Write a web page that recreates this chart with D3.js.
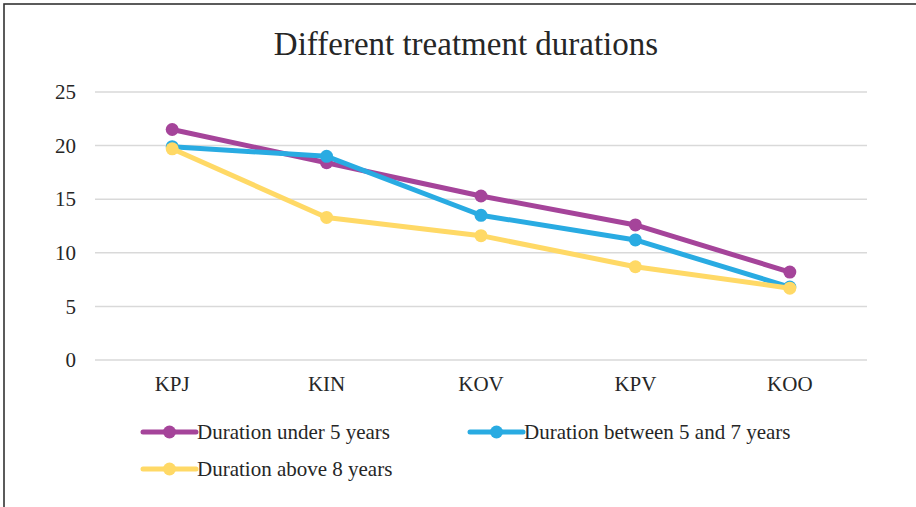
<!DOCTYPE html>
<html>
<head>
<meta charset="utf-8">
<script src="https://cdn.jsdelivr.net/npm/d3@7"></script>
<style>
	body { margin: 0; background: #fff; }
	svg { display: block; }
	svg text { font-family: "Liberation Serif", "Times New Roman", serif; fill: #262626; }
</style>
</head>
<body>
<div id="chart"></div>
<script>
// --------- Data --------- //
var categories = ["KPJ", "KIN", "KOV", "KPV", "KOO"];
var under5 = [21.5, 18.4, 15.3, 12.6, 8.2];
var between5and7 = [19.9, 19.0, 13.5, 11.2, 6.8];
var above8 = [19.7, 13.3, 11.6, 8.7, 6.7];
var yTicks = [0, 5, 10, 15, 20, 25];

var series = [
	{name: "Duration under 5 years", values: under5, color: "#A5449A"},
	{name: "Duration between 5 and 7 years", values: between5and7, color: "#29ABE2"},
	{name: "Duration above 8 years", values: above8, color: "#FFD966"}
];
// --------- /Data --------- //

var width = 916, height = 507;
var margin = {left: 95, right: 49, top: 92, bottom: 147};

var svg = d3.select("#chart").append("svg")
	.attr("width", width)
	.attr("height", height);

// frame (only top & left edges show in the crop)
svg.append("rect")
	.attr("x", 4).attr("y", 4)
	.attr("width", width + 20).attr("height", height + 20)
	.attr("fill", "none")
	.attr("stroke", "#333")
	.attr("stroke-width", 1.6);

svg.append("text")
	.attr("x", 466).attr("y", 55)
	.attr("text-anchor", "middle")
	.style("font-size", "33px")
	.text("Different treatment durations");

var x = d3.scaleBand()
	.domain(categories)
	.range([margin.left, width - margin.right]);

var y = d3.scaleLinear()
	.domain([0, 25])
	.range([height - margin.bottom, margin.top]);

// gridlines
svg.append("g")
	.selectAll("line")
	.data(yTicks)
	.join("line")
	.attr("x1", margin.left).attr("x2", width - margin.right)
	.attr("y1", function(d){ return y(d); })
	.attr("y2", function(d){ return y(d); })
	.attr("stroke", "#d9d9d9")
	.attr("stroke-width", 1.5);

// y axis
var yAxis = svg.append("g")
	.attr("transform", "translate(" + margin.left + ",0)")
	.call(d3.axisLeft(y).tickValues(yTicks).tickSize(0).tickPadding(19));
yAxis.select(".domain").remove();
yAxis.selectAll("text").style("font-size", "21px");

// x axis
var xAxis = svg.append("g")
	.attr("transform", "translate(0," + (height - margin.bottom) + ")")
	.call(d3.axisBottom(x).tickSize(0).tickPadding(16));
xAxis.select(".domain").remove();
xAxis.selectAll("text").style("font-size", "21px");

var line = d3.line()
	.x(function(d, i){ return x(categories[i]) + x.bandwidth() / 2; })
	.y(function(d){ return y(d); });

series.forEach(function(s){
	var g = svg.append("g");
	g.append("path")
		.attr("d", line(s.values))
		.attr("fill", "none")
		.attr("stroke", s.color)
		.attr("stroke-width", 5)
		.attr("stroke-linejoin", "round")
		.attr("stroke-linecap", "round");
	g.selectAll("circle")
		.data(s.values)
		.join("circle")
		.attr("cx", function(d, i){ return x(categories[i]) + x.bandwidth() / 2; })
		.attr("cy", function(d){ return y(d); })
		.attr("r", 6.5)
		.attr("fill", s.color);
});

// legend
var legendPos = [[143, 432], [470, 432], [143, 469]];
series.forEach(function(s, i){
	var p = legendPos[i];
	var g = svg.append("g").attr("transform", "translate(" + p[0] + "," + p[1] + ")");
	g.append("line")
		.attr("x1", 0).attr("x2", 53)
		.attr("stroke", s.color)
		.attr("stroke-width", 5)
		.attr("stroke-linecap", "round");
	g.append("circle")
		.attr("cx", 26.5).attr("r", 6.5)
		.attr("fill", s.color);
	g.append("text")
		.attr("x", 54).attr("dy", "0.35em")
		.style("font-size", "21px")
		.text(s.name);
});
</script>
</body>
</html>
